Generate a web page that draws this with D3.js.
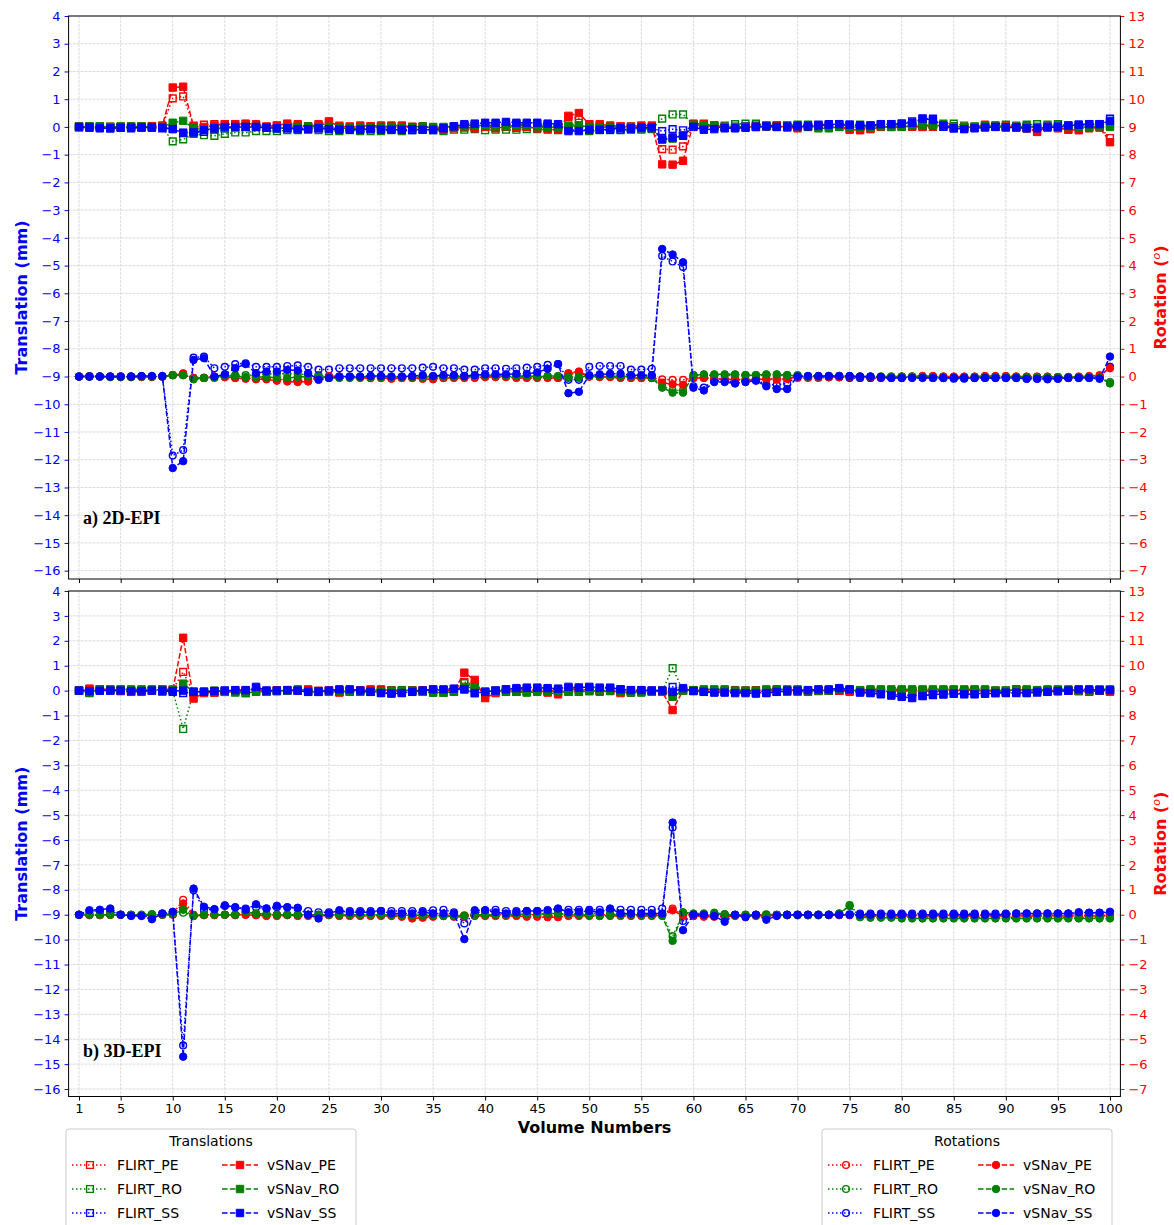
<!DOCTYPE html>
<html>
<head>
<meta charset="utf-8">
<script src="https://cdn.jsdelivr.net/npm/d3@7"></script>
<style>
  html, body { margin: 0; padding: 0; background: #fff; }
  svg { display: block; font-family: "DejaVu Sans", sans-serif; }
</style>
</head>
<body>
<svg id="chart" width="1174" height="1225"></svg>
<script>
(function () {
  'use strict';

  // ---- data: volume numbers, ticks ----
  var volumes = d3.range(1, 101);
  var xTicks = [1, 5, 10, 15, 20, 25, 30, 35, 40, 45, 50, 55, 60, 65, 70, 75, 80, 85, 90, 95, 100];
  var transTicks = [-16, -15, -14, -13, -12, -11, -10, -9, -8, -7, -6, -5, -4, -3, -2, -1, 0, 1, 2, 3, 4];
  var rotTicks = [-7, -6, -5, -4, -3, -2, -1, 0, 1, 2, 3, 4, 5, 6, 7, 8, 9, 10, 11, 12, 13];
  var seriesNames = ['FLIRT_PE', 'FLIRT_RO', 'FLIRT_SS', 'vSNav_PE', 'vSNav_RO', 'vSNav_SS'];

  // ---- a) 2D-EPI translations (mm) ----
  var aTrFlirtPE = [0,0,0,0,0,0.02,0.02,0.02,0.03, 1.03,1.1, 0.05,0.08,0.1,0.1,0.1,0.08,0.05,0.02,0.05,
    0.05,0.03,0.02,0.05,0.15,0.05,0.02,0.02,0.03,0.03, 0.02,0.02,0,0,-0.02,-0.02,0,0.02,0,0,
    0,0,0,0,0,0,0, 0.35,0.3, 0.1,0.05,0.02,0.02,0,0,0, -0.8,-0.82,-0.7,
    0.08,0.05,0,-0.02,0,0,0.02,0.02,0,0.02,0, 0,0.02,0.02,0,-0.05,-0.08,-0.05,0,0,0,
    0,0,0,0,0,-0.02,0,0.03,0.03,0, -0.02,-0.05,-0.15,0,-0.02,-0.08,-0.05,-0.02,-0.02, -0.4];
  var aTrVsnavPE = [0,0,0,0,0,0,0,0.03,0.05, 1.42,1.45, 0.02,0,0.05,0.1,0.1,0.12,0.1,0,0.05,
    0.12,0.1,0,0.1,0.2,0.02,0,0.05,0.02,0.05, 0.05,0.05,0,0.02,-0.05,-0.1,-0.05,-0.02,-0.05,0,
    -0.05,0,-0.03,0,-0.05,-0.08,-0.1, 0.4,0.5, 0.1,0.1,0.05,0.02,0.02,0.05,0.05, -1.35,-1.36,-1.22,
    0.12,0.1,0.05,0,-0.03,0,0,0.02,0.05,-0.02,-0.05, 0,0.05,0.05,0,-0.1,-0.12,-0.08,0,0,0.02,
    0.02,0,0.05,0.05,0.02,0,-0.02,0.08,0.05,0.02, 0,-0.05,-0.18,0,-0.05,-0.1,-0.12,-0.05,-0.02, -0.55];
  var aTrFlirtRO = [0.02,0.02,0.02,0,0,0,0,0,-0.02, -0.52,-0.45, -0.25,-0.3,-0.32,-0.25,-0.2,-0.2,-0.15,-0.15,-0.15,
    -0.12,-0.12,-0.1,-0.12,-0.15,-0.15,-0.12,-0.15,-0.15,-0.15, -0.12,-0.15,-0.12,-0.1,-0.12,-0.15,-0.1,-0.1,-0.08,-0.12,
    -0.1,-0.1,-0.1,-0.08,-0.08,-0.1,-0.12, 0.05,0.15, -0.15,-0.12,-0.12,-0.12,-0.1,-0.1,-0.08, 0.3,0.45,0.45,
    0.1,0.12,0.05,0.05,0.1,0.12,0.12,0.05,0.05,0.05,0.08, 0.08,0.06,0.06,0.06,0.06,0.08,0.05,0.08,0.1,0.05,
    0.05,0.05,0.05,0.12,0.12,0.05,0.02,0.05,0.05,0.08, 0.05,0.08,0.1,0.08,0.1,0.05,0.05,0.08,0.1, 0.05];
  var aTrVsnavRO = [0,0.02,0.02,0,0.02,0.02,0.02,0,0, 0.15,0.22, -0.05,-0.1,-0.05,-0.05,-0.02,0,0,-0.02,-0.05,
    -0.02,0,0.02,0,0,-0.05,-0.05,-0.05,-0.02,0, 0,-0.02,0,0.02,0,0,0.02,0.02,0.05,0.05,
    0.02,0.02,0.05,0.05,0.02,0,-0.02, 0.02,0.05, 0,-0.02,0,-0.02,0,-0.05,-0.05, -0.45,-0.42,-0.3,
    0.08,0.05,0.05,0,0,0,0,0.02,0,0,0.02, 0,-0.05,-0.05,0,0,0,0,0.02,0,0,
    0.05,0.08,0.05,0.05,0.02,0,-0.02,0.03,0.02,0, 0,0.03,0,0,0,0.02,0,0,0.02, 0];
  var aTrFlirtSS = [-0.02,-0.03,-0.02,-0.05,-0.03,-0.05,-0.03,-0.03,-0.05, -0.05,-0.2, -0.2,-0.18,-0.1,-0.05,0,0,0,-0.02,-0.05,
    -0.05,-0.05,-0.05,-0.05,-0.05,-0.05,-0.05,-0.05,-0.08,-0.08, -0.08,-0.1,-0.12,-0.1,-0.12,-0.05,0,0.05,0.05,0.05,
    0.08,0.1,0.1,0.08,0.08,0.05,0.02, -0.1,-0.12, -0.1,-0.1,-0.1,-0.1,-0.08,-0.05,-0.05, -0.15,-0.08,-0.12,
    0.02,-0.02,-0.02,0,0,0.02,0.05,0.05,0.05,0.05,0.05, 0.05,0.08,0.1,0.1,0.08,0.05,0.05,0.08,0.1,0.12,
    0.2,0.3,0.3,0,-0.05,-0.05,-0.02,0,0,0, 0,0,0,0.02,0.05,0.05,0.08,0.1,0.1, 0.3];
  var aTrVsnavSS = [0,-0.02,-0.05,-0.05,-0.03,-0.03,-0.02,-0.02,-0.03, -0.08,-0.22, -0.2,-0.12,-0.05,0,0,0,0,-0.03,-0.05,
    -0.05,-0.08,-0.08,-0.05,-0.08,-0.1,-0.1,-0.1,-0.08,-0.1, -0.1,-0.1,-0.08,-0.1,-0.1,-0.05,0.02,0.1,0.12,0.15,
    0.15,0.18,0.15,0.15,0.15,0.12,0.1, -0.15,-0.15, -0.1,-0.1,-0.08,-0.05,-0.05,-0.02,-0.02, -0.45,-0.38,-0.32,
    0,-0.1,-0.08,-0.05,-0.05,-0.03,0,0.02,0,0,0.02, 0.02,0.05,0.08,0.1,0.08,0.05,0.05,0.1,0.1,0.12,
    0.15,0.3,0.25,0.05,-0.05,-0.08,-0.05,-0.02,0,-0.02, -0.02,-0.05,-0.05,-0.02,0,0.05,0.08,0.1,0.1, 0.22];

  // ---- a) 2D-EPI rotations (degrees) ----
  var aRotFlirtPE = [0,0.02,0,0,0,0,0,0,0, 0.05,0.12, -0.08,-0.05,0,-0.02,-0.05,-0.05,-0.08,-0.08,-0.1,
    -0.12,-0.15,-0.12,-0.05,-0.05,-0.02,-0.02,-0.02,-0.05,-0.05, -0.05,-0.05,-0.05,-0.05,-0.05,-0.05,-0.02,-0.02,-0.02,0,
    0,0,0,-0.02,-0.02,-0.02,-0.05, 0.1,0.12, 0,0,0,-0.02,-0.05,-0.05,-0.05, -0.1,-0.12,-0.12,
    -0.05,-0.05,-0.08,-0.1,-0.1,-0.12,-0.1,-0.08,-0.08,-0.08,-0.05, -0.05,-0.05,-0.03,-0.03,-0.03,-0.05,-0.05,-0.05,-0.03,-0.02,
    -0.02,-0.02,-0.02,-0.05,-0.05,-0.03,-0.02,0,0,0, 0,-0.02,-0.05,-0.05,-0.05,-0.05,-0.03,-0.02,0, 0.35];
  var aRotVsnavPE = [0,0,0,0,0,-0.02,-0.02,-0.02,0, 0.05,0.1, -0.05,-0.05,0,-0.02,-0.05,-0.08,-0.1,-0.1,-0.15,
    -0.18,-0.2,-0.18,-0.08,0.02,0,-0.02,-0.05,-0.05,-0.05, -0.08,-0.05,-0.05,-0.08,-0.1,-0.05,-0.05,-0.05,-0.05,-0.02,
    -0.02,-0.02,-0.05,-0.05,-0.05,-0.05,-0.05, 0.12,0.18, 0,-0.02,-0.02,-0.05,-0.05,-0.05,-0.05, -0.22,-0.28,-0.3,
    -0.05,-0.05,-0.08,-0.1,-0.1,-0.15,-0.1,-0.1,-0.12,-0.08,0, 0,0,-0.02,-0.02,0,0,-0.02,-0.02,-0.02,0,
    0,0.02,0.02,0,0,0,0,0.02,0.02,0.02, 0,0,0,0,-0.02,-0.02,0,0.02,0.05, 0.3];
  var aRotFlirtRO = [0,0,0,-0.02,-0.02,0,0,0,0, 0.05,0.05, -0.05,-0.05,-0.05,0.05,0.05,0.05,0.05,0.1,0.1,
    0.1,0.1,0.05,0.05,0,0,0,0,0,0, 0,0,0,0,0,0.02,0.02,0.02,0.02,0.02,
    0.02,0,0,0,0,0,0, -0.05,-0.05, 0,0,0,0,0,0,0, -0.35,-0.5,-0.5,
    0.05,0.05,0.05,0.05,0.05,0.05,0.05,0.05,0.05,0.05,0.05, 0.02,0.02,0.02,0.02,0,0,0,0,0,0,
    0,0,0,0,-0.02,-0.05,-0.05,-0.03,-0.02,-0.02, -0.02,-0.02,-0.02,-0.02,-0.02,-0.02,-0.02,-0.02,-0.05, -0.2];
  var aRotVsnavRO = [0,0,0,-0.02,-0.02,-0.02,0,0,0, 0.05,0.05, -0.1,-0.05,-0.02,0.02,0.02,-0.02,-0.02,-0.02,-0.05,
    -0.05,-0.02,0,0,-0.05,-0.05,-0.05,-0.02,-0.02,-0.02, -0.02,-0.02,-0.02,-0.02,0,0,0,0,0.02,0.05,
    0.05,0.02,0.02,0.02,0,0.02,0.02, -0.02,-0.02, 0.02,0.02,0.02,0,0,0,-0.05, -0.4,-0.58,-0.58,
    0.05,0.08,0.08,0.08,0.08,0.05,0.05,0.08,0.08,0.05,0.02, 0,0,0.02,0.02,0.02,0,0,0,0,0,
    0,-0.02,-0.02,-0.05,-0.05,-0.05,-0.02,-0.02,-0.02,-0.02, -0.02,-0.02,-0.02,-0.02,-0.02,-0.02,-0.02,-0.02,-0.05, -0.25];
  var aRotFlirtSS = [0,0,0,0,0,0,0,0,0, -2.85,-2.65, 0.68,0.72,0.3,0.35,0.45,0.48,0.35,0.35,0.35,
    0.38,0.4,0.35,0.25,0.25,0.3,0.3,0.3,0.3,0.3, 0.3,0.3,0.3,0.32,0.35,0.3,0.3,0.25,0.25,0.3,
    0.3,0.28,0.3,0.32,0.35,0.42,0.45, -0.12,-0.12, 0.35,0.38,0.38,0.38,0.25,0.25,0.28, 4.35,4.15,3.95,
    -0.35,-0.4,-0.15,-0.15,-0.2,-0.15,-0.1,-0.3,-0.3,-0.25,0, 0,0,-0.02,-0.02,-0.05,-0.05,-0.05,-0.05,-0.05,-0.05,
    -0.02,-0.02,-0.05,-0.05,-0.08,-0.08,-0.05,-0.05,-0.05,-0.05, -0.05,-0.08,-0.08,-0.1,-0.08,-0.05,-0.05,-0.05,-0.02, 0.35];
  var aRotVsnavSS = [0,0,0,0,0,0,0.02,0.02,0.02, -3.3,-3.05, 0.6,0.66,0,0.08,0.3,0.45,0.12,0.18,0.18,
    0.24,0.22,0.12,-0.12,-0.05,0,0,0,0.02,0.02, 0,0,0.02,0.05,0.02,0.05,0.05,0.02,0.05,0.08,
    0.08,0.08,0.1,0.1,0.15,0.28,0.45, -0.6,-0.55, 0.05,0.08,0.1,0.1,0.05,0.05,0.05, 4.6,4.4,4.12,
    -0.4,-0.5,-0.2,-0.2,-0.25,-0.2,-0.15,-0.35,-0.45,-0.45,0, 0.02,0.02,0.02,0.02,0.02,0,0,-0.02,-0.05,-0.05,
    -0.05,-0.05,-0.05,-0.05,-0.05,-0.05,-0.05,-0.05,-0.05,-0.05, -0.05,-0.08,-0.08,-0.08,-0.08,-0.05,-0.05,-0.05,-0.08, 0.72];

  // ---- b) 3D-EPI translations (mm) ----
  var bTrFlirtPE = [0,0.05,0.05,0.05,0,-0.05,-0.02,0.02,0.05, 0.05,0.75, -0.1,-0.05,-0.05,-0.02,0,-0.02,0,-0.02,0.02,
    0.02,0,0.02,0,0,-0.05,0,0.02,0.02,0.02, 0.02,0,0.02,0.02,0.05,0.02,0.05,0.35,0.23,-0.15,
    -0.05,0,-0.05,0,0.05,-0.02,0,0.02,0.05,0.02, 0,0,-0.02,0,0,0,0, -0.1,
    0,0,0,0,0,0,0,0.02,0,0,0,0, 0,0,0,0,0.02,0,-0.02,0,-0.02,-0.02,
    0,0,-0.02,0,0.02,0,0,-0.02,0,0, 0.02,0,0,0.02,0.02,0,0,-0.02,0,0];
  var bTrVsnavPE = [0,0.08,0.05,0.05,-0.02,-0.05,-0.05,0,0.05, 0.02,2.12, -0.32,-0.1,-0.08,-0.05,-0.05,0,0.05,-0.02,0,
    0.02,0,0.05,-0.05,0,-0.08,0.02,0,0.05,0.05, 0,-0.05,0,0,0.02,0,0,0.72,0.43,-0.3,
    -0.1,0.05,0,-0.05,0.02,-0.08,-0.15,0.05,0.05,0, -0.05,0,-0.1,-0.08,0,-0.02,-0.05, -0.78,
    0,0,0,-0.05,-0.02,0.02,0,0,-0.05,0.05,0.02,0.02, -0.05,0,0,0,-0.05,-0.05,0,-0.05,0,0,
    0,0,-0.05,-0.05,0,0,0.03,0,-0.03,-0.03, 0.05,0.02,0,0,-0.02,0.02,-0.02,-0.05,0.02,-0.05];
  var bTrFlirtRO = [0,-0.08,0.05,0.02,0.05,0.02,0,0,-0.05, 0,-1.54, -0.05,-0.05,-0.08,-0.05,-0.08,-0.1,-0.05,-0.05,-0.02,
    0,0,-0.05,-0.05,-0.05,-0.05,-0.05,-0.05,-0.05,-0.02, -0.02,0,0,-0.05,-0.08,-0.08,-0.05,0.3,0.15,-0.05,
    0,-0.05,-0.05,-0.05,0,0,-0.05,-0.05,-0.05,-0.02, 0,0,-0.05,-0.05,-0.05,-0.05,-0.02, 0.9,
    0,0,-0.05,-0.05,-0.05,-0.05,-0.05,-0.05,-0.05,-0.05,-0.05,-0.05, -0.05,-0.02,0,0,0,0,-0.02,-0.05,-0.02,-0.02,
    -0.02,-0.02,0,0,0,0,0,0,0,0, 0,-0.02,-0.02,0,0,0,-0.02,-0.05,0,0];
  var bTrVsnavRO = [0,-0.1,0.05,0.02,0.05,0.05,0.05,0.05,0.02, 0.02,0.28, -0.05,-0.05,0,-0.05,-0.05,-0.1,-0.05,-0.05,-0.02,
    0,0.05,-0.05,-0.05,-0.05,-0.02,-0.05,-0.05,-0.05,-0.02, 0,0.02,0,-0.05,-0.08,-0.08,-0.05,0.15,0.1,-0.05,
    0,-0.05,-0.05,-0.08,-0.05,-0.05,-0.05,-0.05,-0.05,-0.02, 0,-0.02,-0.05,-0.08,-0.08,-0.05,0, -0.25,
    0,0.02,0.05,0.05,0.05,0,0,0,0.05,0.05,0.05,0.05, 0,0,0,0.05,0.05,0.02,0.05,0.05,0.05,0.05,
    0.05,0.05,0.05,0.05,0.05,0.05,0.05,0.05,0,0, 0.05,0.05,0.02,0.05,0.05,0.05,0,0,0.05,0.05];
  var bTrFlirtSS = [0,-0.02,0,0,0,-0.02,-0.02,0,0, -0.05,-0.1, -0.05,-0.05,-0.02,0,0,0,0.1,0,0,
    0,0,-0.02,-0.02,0,0.02,0,0,-0.05,-0.08, -0.1,-0.08,-0.05,0,0.02,0.02,0.05,0.05,-0.1,-0.05,
    0,0.05,0.05,0.08,0.08,0.05,0.05,0.1,0.12,0.12, 0.1,0.1,0.05,0.02,0,0,0, 0.15,
    0.05,0,-0.05,-0.05,-0.05,-0.05,-0.05,-0.08,-0.08,-0.05,0,0.02, 0.02,0.02,0,0,0,-0.05,-0.08,-0.12,-0.15,-0.18,
    -0.2,-0.2,-0.18,-0.15,-0.12,-0.1,-0.12,-0.12,-0.1,-0.1, -0.1,-0.08,-0.08,-0.05,-0.02,0,0,0,0,0];
  var bTrVsnavSS = [0,-0.02,0,0,0,-0.02,-0.02,0,0, -0.02,0, -0.05,-0.05,-0.02,0,0.02,0.02,0.15,0,0,
    0.02,0,-0.05,-0.05,0,0.05,0.05,0,-0.05,-0.1, -0.12,-0.1,-0.05,0,0.05,0.05,0.08,0.05,-0.1,-0.05,
    0,0.05,0.1,0.12,0.12,0.1,0.08,0.15,0.12,0.15, 0.12,0.12,0.05,0.02,0.02,0,0, -0.05,
    0.1,-0.02,-0.05,-0.08,-0.08,-0.1,-0.1,-0.12,-0.1,-0.05,0,0, 0.02,0.05,0.05,0.1,0.05,-0.08,-0.1,-0.15,-0.2,-0.25,
    -0.3,-0.22,-0.15,-0.15,-0.12,-0.15,-0.15,-0.12,-0.1,-0.08, -0.08,-0.1,-0.05,-0.05,-0.02,0,0.05,0.05,0.02,0.02];

  // ---- b) 3D-EPI rotations (degrees) ----
  var bRotFlirtPE = [0,0,0,0,0,0,-0.02,-0.02,0, 0.02,0.6, 0,0,0,0,0,0,0,0,0,
    0,0,0,0,0,-0.02,-0.02,0,0,0, -0.02,-0.02,-0.05,-0.08,-0.05,-0.02,-0.02,-0.02,0,0,
    0,0,0,0,0,-0.05,-0.05,-0.02,0,0, 0,0,0,0,0,0,0.02, 0.25,
    -0.02,0,0,-0.05,-0.05,-0.02,0,0,0,0,0,0, 0,0,0,0,0,-0.02,-0.02,-0.02,-0.02,-0.02,
    -0.02,-0.02,-0.02,-0.02,-0.02,-0.02,-0.02,-0.02,-0.02,-0.02, -0.02,-0.02,-0.02,-0.02,-0.02,-0.02,-0.02,-0.02,-0.02,-0.02];
  var bRotVsnavPE = [0,-0.02,-0.02,0,0,-0.02,-0.02,-0.02,0, 0,0.45, -0.05,-0.02,-0.02,0,-0.02,0,-0.02,-0.05,-0.05,
    -0.02,-0.05,-0.05,-0.05,-0.02,-0.05,-0.05,-0.05,-0.05,-0.05, -0.05,-0.08,-0.15,-0.12,-0.08,-0.05,-0.08,-0.08,-0.05,-0.05,
    -0.05,-0.05,-0.05,-0.08,-0.08,-0.1,-0.1,-0.05,-0.05,-0.05, -0.05,-0.05,-0.05,-0.05,-0.05,-0.05,-0.02, 0.18,
    -0.05,-0.05,-0.08,-0.08,-0.08,-0.05,-0.05,-0.05,-0.05,-0.02,-0.02,-0.02, -0.02,-0.02,-0.02,-0.02,-0.02,-0.05,-0.05,-0.05,-0.05,-0.05,
    -0.05,-0.05,-0.05,-0.05,-0.05,-0.05,-0.05,-0.05,-0.05,-0.05, -0.05,-0.05,-0.05,-0.05,-0.05,-0.05,-0.05,-0.05,-0.05,-0.05];
  var bRotFlirtRO = [0,0,0,0,0,0,0,0.02,0, 0.02,0.08, -0.02,0,0,0,0,0.1,0.05,0.02,0,
    0,0,0,0,0,0,0,0,0,0, -0.02,-0.02,-0.02,-0.02,-0.02,-0.05,-0.05,-0.05,-0.02,0,
    0,0,0,0,0.02,0.02,0.02,0.02,0.05,0.05, 0.05,0.02,0.02,0,0,0,-0.02, -0.86,
    0.05,0.02,0.02,0.02,0.02,0,0,0,0.02,0,0,0, 0,0,0,0.05,0.39,-0.05,-0.05,-0.08,-0.08,-0.08,
    -0.1,-0.1,-0.1,-0.1,-0.1,-0.1,-0.1,-0.1,-0.1,-0.1, -0.1,-0.1,-0.1,-0.1,-0.1,-0.12,-0.12,-0.1,-0.1,-0.1];
  var bRotVsnavRO = [0,0,0,0,0,0,0,0.02,0, 0.02,0.2, -0.05,0,0,0,0,0.12,0.05,0.02,0,
    0,0,0,0,0,0,0,0,0,0, -0.02,-0.02,-0.02,-0.02,-0.02,-0.05,-0.05,-0.05,-0.02,0,
    0,0,0.02,0.02,0.05,0.05,0.05,0.02,0,-0.02, -0.05,-0.02,-0.02,0,-0.02,-0.02,-0.05, -1.05,
    0.1,0.05,0.05,0.08,0.02,-0.02,0,-0.02,-0.02,-0.02,-0.02,-0.02, -0.02,-0.02,0,0.05,0.35,-0.1,-0.12,-0.12,-0.12,-0.15,
    -0.15,-0.15,-0.15,-0.15,-0.15,-0.15,-0.15,-0.15,-0.15,-0.15, -0.15,-0.15,-0.15,-0.15,-0.15,-0.15,-0.15,-0.15,-0.15,-0.15];
  var bRotFlirtSS = [0,0.15,0.15,0.15,0,-0.02,-0.02,-0.1,0.05, 0.1,-5.25, 0.98,0.2,0.22,0.35,0.3,0.25,0.3,0.25,0.3,
    0.3,0.25,0.15,0.1,0.1,0.1,0.15,0.15,0.15,0.15, 0.15,0.15,0.15,0.15,0.18,0.2,0.1,-0.35,0.05,0.18,
    0.2,0.15,0.15,0.15,0.15,0.18,0.2,0.2,0.2,0.2, 0.2,0.2,0.2,0.2,0.2,0.2,0.25, 3.5,
    -0.25,-0.05,0,0,-0.05,0,-0.05,0,-0.05,0,0,0, 0,0,0,0,0.02,0.05,0.05,0.05,0.05,0.05,
    0.05,0.05,0.05,0.05,0.05,0.05,0.05,0.05,0.05,0.05, 0.05,0.05,0.05,0.05,0.05,0.05,0.05,0.08,0.08,0.08];
  var bRotVsnavSS = [0,0.18,0.2,0.25,0,-0.05,-0.05,-0.18,0.05, 0.12,-5.7, 1.05,0.32,0.22,0.38,0.3,0.2,0.42,0.25,0.36,
    0.3,0.28,0,-0.15,0.05,0.18,0.1,0.1,0.1,0.15, 0.05,0.05,0.05,0.1,0.05,0.05,0.05,-0.98,0.18,0.18,
    0.1,0.05,0.1,0.15,0.15,0.18,0.25,0.1,0.12,0.15, 0.1,0.25,0.05,0.05,0.05,0.05,0.05, 3.7,
    -0.62,0,0,-0.05,-0.28,0,-0.1,0,-0.2,-0.05,0,0, 0,0,0,0,0,0,0,0,0,0,
    0,0,0,0,0,0,0,0,0,0.02, 0.05,0.05,0.05,0.05,0.05,0.05,0.1,0.08,0.08,0.12];

  // ---- styling ----
  var colors = { PE: '#ff0000', RO: '#008000', SS: '#0000ff' };
  var plotLeft = 68.6, plotRight = 1120.4;
  var panels = [
    { top: 16, bottom: 579, label: 'a) 2D-EPI', labelY: 524, showX: false,
      trans: { PE: [aTrFlirtPE, aTrVsnavPE], RO: [aTrFlirtRO, aTrVsnavRO], SS: [aTrFlirtSS, aTrVsnavSS] },
      rot: { PE: [aRotFlirtPE, aRotVsnavPE], RO: [aRotFlirtRO, aRotVsnavRO], SS: [aRotFlirtSS, aRotVsnavSS] } },
    { top: 591, bottom: 1096.5, label: 'b) 3D-EPI', labelY: 1057, showX: true,
      trans: { PE: [bTrFlirtPE, bTrVsnavPE], RO: [bTrFlirtRO, bTrVsnavRO], SS: [bTrFlirtSS, bTrVsnavSS] },
      rot: { PE: [bRotFlirtPE, bRotVsnavPE], RO: [bRotFlirtRO, bRotVsnavRO], SS: [bRotFlirtSS, bRotVsnavSS] } }
  ];

  var svg = d3.select('#chart');
  var x = d3.scaleLinear().domain([0, 101]).range([plotLeft, plotRight]);

  var OPEN_SQ = 'M-3.4,-3.4h6.8v6.8h-6.8z';
  var FILL_SQ = 'M-3.7,-3.7h7.4v7.4h-7.4z';

  function markerPath(kind, filled) {
    if (kind === 'square') return filled ? FILL_SQ : OPEN_SQ;
    return d3.symbol().type(d3.symbolCircle).size(filled ? 44 : 36)();
  }

  function drawSeries(g, data, ys, color, flirt, kind) {
    var line = d3.line().x(function (d, i) { return x(volumes[i]); }).y(function (d) { return ys(d); });
    g.append('path').datum(data)
      .attr('d', line)
      .attr('fill', 'none')
      .attr('stroke', color)
      .attr('stroke-width', 1.5)
      .attr('stroke-dasharray', flirt ? '1.5,2.5' : '5.5,2.4');
    g.append('g').selectAll('path').data(data).enter().append('path')
      .attr('transform', function (d, i) { return 'translate(' + x(volumes[i]) + ',' + ys(d) + ')'; })
      .attr('d', markerPath(kind, !flirt))
      .attr('fill', flirt ? 'none' : color)
      .attr('stroke', color)
      .attr('stroke-width', flirt ? 1.4 : 1);
  }

  panels.forEach(function (p) {
    var yL = d3.scaleLinear().domain([-16.3, 4]).range([p.bottom, p.top]);
    var yR = d3.scaleLinear().domain([-7.3, 13]).range([p.bottom, p.top]);
    var g = svg.append('g');

    // grid
    g.append('g').selectAll('line').data(xTicks).enter().append('line')
      .attr('x1', function (d) { return x(d); }).attr('x2', function (d) { return x(d); })
      .attr('y1', p.top).attr('y2', p.bottom)
      .attr('stroke', '#dcdcdc').attr('stroke-width', 1).attr('stroke-dasharray', '3,1');
    g.append('g').selectAll('line').data(transTicks).enter().append('line')
      .attr('x1', plotLeft).attr('x2', plotRight)
      .attr('y1', function (d) { return yL(d); }).attr('y2', function (d) { return yL(d); })
      .attr('stroke', '#dcdcdc').attr('stroke-width', 1).attr('stroke-dasharray', '3,1');

    var clipId = 'clip' + p.top;
    svg.append('clipPath').attr('id', clipId).append('rect')
      .attr('x', plotLeft - 5).attr('y', p.top).attr('width', plotRight - plotLeft + 10).attr('height', p.bottom - p.top);
    var dg = g.append('g').attr('clip-path', 'url(#' + clipId + ')');

    ['PE', 'RO', 'SS'].forEach(function (k) { drawSeries(dg, p.trans[k][0], yL, colors[k], true, 'square'); });
    ['PE', 'RO', 'SS'].forEach(function (k) { drawSeries(dg, p.trans[k][1], yL, colors[k], false, 'square'); });
    ['PE', 'RO', 'SS'].forEach(function (k) { drawSeries(dg, p.rot[k][0], yR, colors[k], true, 'circle'); });
    ['PE', 'RO', 'SS'].forEach(function (k) { drawSeries(dg, p.rot[k][1], yR, colors[k], false, 'circle'); });

    // axes
    var axL = g.append('g').attr('transform', 'translate(' + plotLeft + ',0)')
      .call(d3.axisLeft(yL).tickValues(transTicks).tickSize(4).tickPadding(4).tickFormat(d3.format('d')));
    axL.select('.domain').remove();
    axL.selectAll('line').attr('stroke', '#0000ff');
    axL.selectAll('text').attr('fill', '#0000ff').style('font-size', '13px').style('font-family', 'DejaVu Sans');

    var axR = g.append('g').attr('transform', 'translate(' + plotRight + ',0)')
      .call(d3.axisRight(yR).tickValues(rotTicks).tickSize(4).tickPadding(4).tickFormat(d3.format('d')));
    axR.select('.domain').remove();
    axR.selectAll('line').attr('stroke', '#ff0000');
    axR.selectAll('text').attr('fill', '#ff0000').style('font-size', '13px').style('font-family', 'DejaVu Sans');

    var axB = g.append('g').attr('transform', 'translate(0,' + p.bottom + ')')
      .call(d3.axisBottom(x).tickValues(xTicks).tickSize(4).tickPadding(3).tickFormat(p.showX ? d3.format('d') : ''));
    axB.select('.domain').remove();
    axB.selectAll('line').attr('stroke', '#000');
    axB.selectAll('text').attr('fill', '#000').style('font-size', '13px').style('font-family', 'DejaVu Sans');

    // frame
    g.append('rect').attr('x', plotLeft).attr('y', p.top)
      .attr('width', plotRight - plotLeft).attr('height', p.bottom - p.top)
      .attr('fill', 'none').attr('stroke', '#000').attr('stroke-width', 1);

    // axis labels
    var midY = (p.top + p.bottom) / 2;
    g.append('text')
      .attr('transform', 'translate(27,' + midY + ') rotate(-90)')
      .attr('text-anchor', 'middle')
      .attr('fill', '#0000ff').style('font-weight', 'bold').style('font-size', '16px')
      .text('Translation (mm)');
    var rt = g.append('text')
      .attr('transform', 'translate(1166,' + midY + ') rotate(-90)')
      .attr('text-anchor', 'middle')
      .attr('fill', '#ff0000').style('font-weight', 'bold').style('font-size', '16px');
    rt.append('tspan').text('Rotation (');
    rt.append('tspan').attr('dy', -6).style('font-size', '11px').style('font-style', 'italic').style('font-weight', 'normal').text('o');
    rt.append('tspan').attr('dy', 6).text(')');

    g.append('text').attr('x', 83).attr('y', p.labelY)
      .style('font-family', '"Liberation Serif", "Times New Roman", serif')
      .style('font-weight', 'bold').style('font-size', '18px')
      .text(p.label);
  });

  svg.append('text').attr('x', (plotLeft + plotRight) / 2).attr('y', 1133)
    .attr('text-anchor', 'middle').style('font-weight', 'bold').style('font-size', '16px')
    .text('Volume Numbers');

  // ---- legends ----
  function legend(x0, title, kind) {
    var lg = svg.append('g').attr('transform', 'translate(' + x0 + ',1129)');
    lg.append('rect').attr('x', 0).attr('y', 0).attr('width', 290).attr('height', 104).attr('rx', 3)
      .attr('fill', '#fff').attr('stroke', '#cccccc').attr('stroke-width', 1);
    lg.append('text').attr('x', 145).attr('y', 17).attr('text-anchor', 'middle')
      .style('font-size', '14px').text(title);
    seriesNames.forEach(function (n, i) {
      var col = Math.floor(i / 3), row = i % 3;
      var flirt = col === 0;
      var c = colors[n.split('_')[1]];
      var lx = 6 + col * 150, ly = 36 + row * 24;
      lg.append('line').attr('x1', lx).attr('x2', lx + 36).attr('y1', ly).attr('y2', ly)
        .attr('stroke', c).attr('stroke-width', 1.5)
        .attr('stroke-dasharray', flirt ? '1.5,2.5' : '5.5,2.4');
      lg.append('path').attr('transform', 'translate(' + (lx + 18) + ',' + ly + ')')
        .attr('d', markerPath(kind, !flirt))
        .attr('fill', flirt ? 'none' : c).attr('stroke', c).attr('stroke-width', flirt ? 1.4 : 1);
      lg.append('text').attr('x', lx + 45).attr('y', ly + 5).style('font-size', '14px').text(n);
    });
  }
  legend(66, 'Translations', 'square');
  legend(822, 'Rotations', 'circle');
})();
</script>
</body>
</html>
